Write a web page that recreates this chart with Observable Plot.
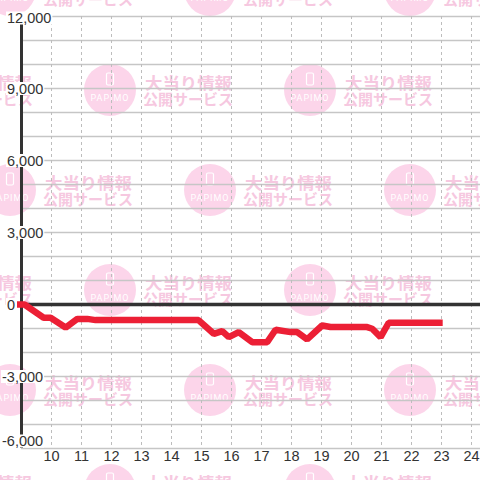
<!DOCTYPE html>
<html><head><meta charset="utf-8">
<script src="https://cdn.jsdelivr.net/npm/d3@7"></script>
<script src="https://cdn.jsdelivr.net/npm/@observablehq/plot@0.6"></script>
<style>
html,body{margin:0;padding:0;background:#fff;overflow:hidden;}
#chart svg{display:block;}
</style></head><body><div id="chart"></div>
<script>
const hours   = [8.85, 9.1, 9.74, 9.97, 10.47, 10.86, 11.19, 11.47, 14.9, 15.41, 15.69, 15.91, 16.24, 16.69, 17.19, 17.47, 17.97, 18.19, 18.52, 19.02, 19.3, 20.52, 20.69, 20.97, 21.24, 23.04];
const balance = [0, 0, -550, -550, -960, -600, -600, -650, -650, -1220, -1110, -1360, -1150, -1570, -1570, -1050, -1150, -1150, -1450, -875, -940, -940, -1010, -1360, -760, -760];
const xTicks  = [10, 11, 12, 13, 14, 15, 16, 17, 18, 19, 20, 21, 22, 23, 24];
const yGrid   = [-6000, -5000, -4000, -3000, -2000, -1000, 0, 1000, 2000, 3000, 4000, 5000, 6000, 7000, 8000, 9000, 10000, 11000, 12000];
const yLabels = [12000, 9000, 6000, 3000, 0, -3000, -6000];
const wmLine1 = "大当り情報";
const wmLine2 = "公開サービス";
const wmBrand = "PAPIMO";

const data = hours.map((h, i) => ({h, v: balance[i]}));
const fmt = d => d.toLocaleString("en-US");
const LABEL_FONT = "14.5px 'Liberation Sans', Arial, sans-serif";

function watermark() {
  const g = d3.create("svg:g").attr("aria-label", "watermark");
  const rows = [-10, 90, 190, 290, 390, 490];
  rows.forEach((ry, r) => {
    const off = r % 2 === 0 ? 10 : 110;
    for (let cx = off - 200; cx < 600; cx += 200) {
      g.append("circle").attr("cx", cx).attr("cy", ry).attr("r", 26).attr("fill", "#fcd5ea");
      g.append("rect").attr("x", cx - 3.5).attr("y", ry - 17).attr("width", 7).attr("height", 12)
        .attr("rx", 1.5).attr("fill", "none").attr("stroke", "#fff").attr("stroke-width", 1.2);
      g.append("text").attr("x", cx).attr("y", ry + 8).attr("text-anchor", "middle")
        .attr("dominant-baseline", "central").attr("font-family", "'Roboto', sans-serif")
        .attr("font-size", 9).attr("letter-spacing", 1).attr("fill", "#fff").text(wmBrand);
      [[wmLine1, -8.3, 16, 87, 35], [wmLine2, 8.7, 15, 90, 33]].forEach(([t, dy, fs, len, dx]) => {
        g.append("text").attr("x", cx + dx).attr("y", ry + dy)
          .attr("text-anchor", "start")
          .attr("dominant-baseline", "central")
          .attr("font-family", "'Noto Sans CJK JP', sans-serif").attr("font-weight", "bold")
          .attr("font-size", fs).attr("textLength", len).attr("lengthAdjust", "spacingAndGlyphs")
          .attr("fill", "#f6c8e0").text(t);
      });
    }
  });
  return g.node();
}

// y-axis labels with white boxes behind them, positioned through the y scale
function yAxisLabels(index, scales) {
  const ctx = document.createElement("canvas").getContext("2d");
  ctx.font = LABEL_FONT;
  const g = d3.create("svg:g").attr("aria-label", "y-axis labels");
  yLabels.forEach(v => {
    const s = fmt(v);
    let y = scales.y(v) + 0.5;
    if (v === d3.max(yLabels)) y += 1.5;
    if (v === d3.min(yLabels)) y -= 7.5;
    const x = v < 0 ? 2 : 7;
    const w = ctx.measureText(s).width;
    g.append("rect").attr("x", x - 1).attr("y", y - 6.5).attr("width", w + 2).attr("height", 13).attr("fill", "#fff");
    g.append("text").attr("x", x).attr("y", y).attr("dy", "0.35em").attr("text-anchor", "start")
      .attr("font-size", 14.5).attr("fill", "#333").text(s);
  });
  return g.node();
}

const chart = Plot.plot({
  width: 480, height: 480,
  marginLeft: 21, marginRight: 0, marginTop: 16, marginBottom: 32,
  x: {domain: [9, 24.3], axis: null},
  y: {domain: [-6000, 12000], axis: null},
  style: {background: "transparent", fontFamily: "'Liberation Sans', Arial, sans-serif", overflow: "hidden"},
  marks: [
    watermark,
    Plot.ruleY(yGrid, {stroke: "#c6c6c6", strokeWidth: 1.3}),
    Plot.ruleX(xTicks, {stroke: "#bdbdbd", strokeDasharray: "3,3", strokeWidth: 1}),
    Plot.ruleY([0], {stroke: "#333", strokeWidth: 3.5}),
    Plot.ruleX([9], {stroke: "#333", strokeWidth: 3}),
    Plot.line(data, {x: "h", y: "v", stroke: "#ec1f35", strokeWidth: 6.5, strokeLinejoin: "miter", strokeLinecap: "butt"}),
    Plot.text(xTicks, {x: d => d, frameAnchor: "bottom", dy: 12, fontSize: 14.5, fill: "#333"}),
    yAxisLabels
  ]
});

document.getElementById("chart").append(chart);
</script>
</body></html>
